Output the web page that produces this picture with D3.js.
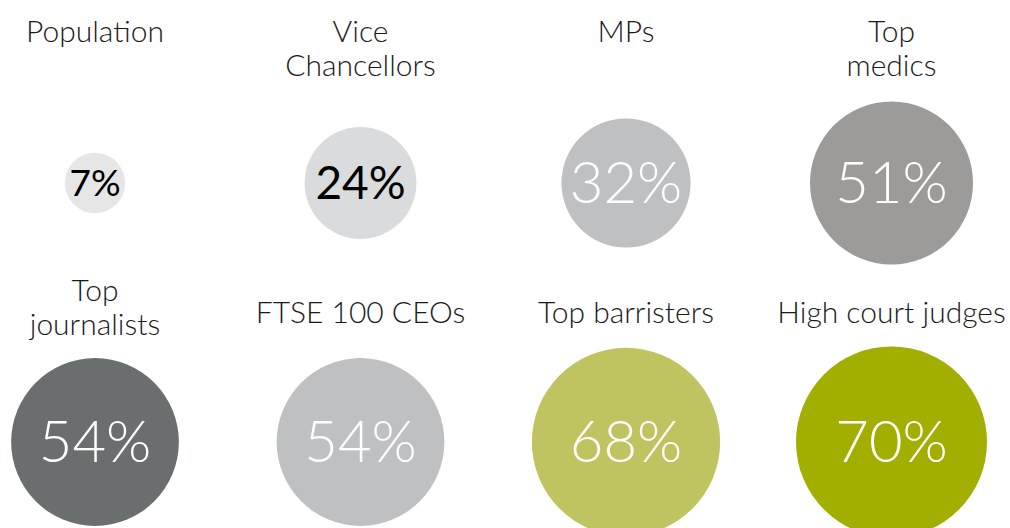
<!DOCTYPE html>
<html>
<head>
<meta charset="utf-8">
<script src="https://cdn.jsdelivr.net/npm/d3@7"></script>
<style>
  body { margin: 0; background: #fff; }
  .groupLabel { font-family: Lato, "Open Sans", sans-serif; font-weight: 300; fill: #1a1a1a; }
  .valueLabel { font-family: Lato, "Open Sans", sans-serif; }
</style>
</head>
<body>
<div id="chart"></div>
<script>
// data
const groups = ["Population", "Vice Chancellors", "MPs", "Top medics",
                "Top journalists", "FTSE 100 CEOs", "Top barristers", "High court judges"];
// label lines as printed
const labelLines = [["Population"], ["Vice", "Chancellors"], ["MPs"], ["Top", "medics"],
                    ["Top", "journalists"], ["FTSE 100 CEOs"], ["Top barristers"], ["High court judges"]];
const values = [7, 24, 32, 51, 54, 54, 68, 70];
const colours = ["#e6e6e6", "#dadbdc", "#bfc0c2", "#9c9b99", "#6b6e6e", "#bfc0c2", "#bfc461", "#a2ae00"];
const textColours = ["#000", "#000", "#fff", "#fff", "#fff", "#fff", "#fff", "#fff"];

const width = 1010, height = 528;
const nCols = 4;

const svg = d3.select("#chart")
    .append("svg")
    .attr("width", width)
    .attr("height", height);

const data = groups.map((g, i) => ({
    group: g,
    lines: labelLines[i],
    value: values[i],
    col: i % nCols,
    row: Math.floor(i / nCols),
    colour: colours[i],
    textColour: textColours[i]
}));

// scales
const x = d3.scalePoint().domain(d3.range(nCols)).range([95, 891.5]);
const y = d3.scalePoint().domain([0, 1]).range([183, 442]);
const r = d3.scaleSqrt().domain([0, 70]).range([0, 95.5]);
// value text gets smaller for the small circles
const fontSize = v => v < 10 ? 37 : (v < 30 ? 46 : 58);

const cells = svg.selectAll(".cell")
    .data(data)
    .enter()
    .append("g")
    .attr("class", "cell")
    .attr("transform", d => "translate(" + x(d.col) + "," + y(d.row) + ")");

cells.append("circle")
    .attr("r", d => r(d.value))
    .attr("fill", d => d.colour);

cells.append("text")
    .attr("class", "valueLabel")
    .attr("text-anchor", "middle")
    .attr("dy", "0.35em")
    .attr("font-size", d => fontSize(d.value))
    .attr("font-weight", d => d.value < 30 ? 400 : 300)
    .attr("fill", d => d.textColour)
    .text(d => d.value + "%");

// group titles above circles
cells.append("text")
    .attr("class", "groupLabel")
    .attr("text-anchor", "middle")
    .attr("font-size", 30)
    .attr("y", d => (d.row === 1 && d.lines.length === 1) ? -119 : -141)
    .selectAll("tspan")
    .data(d => d.lines)
    .enter()
    .append("tspan")
    .attr("x", 0)
    .attr("dy", (d, i) => i === 0 ? 0 : 34)
    .text(d => d);
</script>
</body>
</html>
